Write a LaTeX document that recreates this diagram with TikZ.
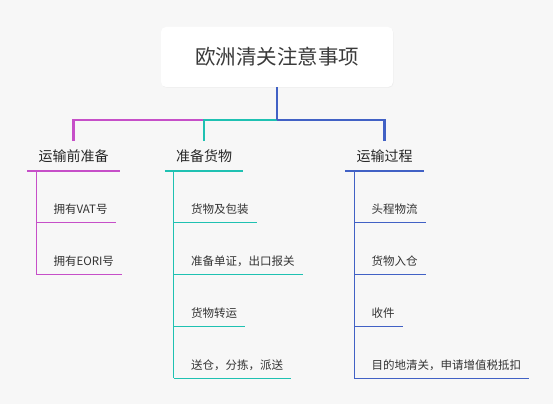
\documentclass[tikz,border=0pt]{standalone}
\usepackage{fontspec}
\setmainfont{Noto Sans CJK SC}
\usepackage{xcolor}
\usepackage{tikz}
\usetikzlibrary{calc, positioning, shadows}
\definecolor{bgColor}{HTML}{F7F7F7}
\definecolor{rootText}{HTML}{3A3A3A}
\definecolor{headText}{HTML}{262626}
\definecolor{itemText}{HTML}{333333}
\definecolor{magentaColor}{HTML}{C64FC8}
\definecolor{tealColor}{HTML}{1FC1B2}
\definecolor{blueColor}{HTML}{4161C5}

\begin{document}
\begin{tikzpicture}[x=1pt, y=-1pt,
    rootbox/.style={fill=white, rounded corners=5pt, minimum width=232pt, minimum height=60pt,
        text=rootText, font=\fontsize{20.5}{24}\selectfont,
        drop shadow={shadow xshift=0.6pt, shadow yshift=-0.8pt, opacity=0.07}},
    head/.style={text=headText, font=\fontsize{14}{17}\selectfont,
        inner xsep=11pt, inner ysep=0pt, minimum height=29.4pt},
    item/.style={anchor=west, text=itemText, font=\fontsize{11.5}{14}\selectfont,
        inner xsep=8pt, inner ysep=0pt, minimum height=26pt},
    link/.style={line width=2.4pt},
    rule/.style={line width=2pt},
    twig/.style={line width=1pt}]
    \fill[bgColor] (0,0) rectangle (553,404);
    \useasboundingbox (0,0) rectangle (553,404);

    \node[rootbox] (root) at (277,57) {欧洲清关注意事项};
    \coordinate (fork) at (277,120);

    \node[head] (pre) at (73.5,156) {运输前准备};
    \node[head] (goods) at (204,156) {准备货物};
    \node[head] (trans) at (384.5,156) {运输过程};

    % connectors from the root
    \draw[link, magentaColor] (pre.north) |- (goods.north |- fork);
    \draw[link, tealColor] (goods.north) |- (fork);
    \draw[link, blueColor] (trans.north) |- (fork);
    \draw[link, blueColor] (root.south) -- (fork);

    % 运输前准备
    \draw[rule, magentaColor] (pre.south west) -- (pre.south east);
    \coordinate (preTrunk) at ($(pre.south west)+(9,0)$);
    \foreach \txt [count=\i] in {拥有VAT号, 拥有EORI号} {
        \node[item] (pre\i) at ($(preTrunk)+(9,{52*\i-13.7})$) {\txt};
        \draw[twig, magentaColor] (preTrunk |- pre\i.south) -- (pre\i.south east);
    }
    \draw[twig, magentaColor] (preTrunk) -- (preTrunk |- pre2.south);

    % 准备货物
    \draw[rule, tealColor] (goods.south west) -- (goods.south east);
    \coordinate (goodsTrunk) at ($(goods.south west)+(9,0)$);
    \foreach \txt [count=\i] in {货物及包装, 准备单证，出口报关, 货物转运, 送仓，分拣，派送} {
        \node[item] (goods\i) at ($(goodsTrunk)+(9,{52*\i-13.7})$) {\txt};
        \draw[twig, tealColor] (goodsTrunk |- goods\i.south) -- (goods\i.south east);
    }
    \draw[twig, tealColor] (goodsTrunk) -- (goodsTrunk |- goods4.south);

    % 运输过程
    \draw[rule, blueColor] (trans.south west) -- (trans.south east);
    \coordinate (transTrunk) at ($(trans.south west)+(9,0)$);
    \foreach \txt [count=\i] in {头程物流, 货物入仓, 收件, 目的地清关，申请增值税抵扣} {
        \node[item] (trans\i) at ($(transTrunk)+(9,{52*\i-13.7})$) {\txt};
        \draw[twig, blueColor] (transTrunk |- trans\i.south) -- (trans\i.south east);
    }
    \draw[twig, blueColor] (transTrunk) -- (transTrunk |- trans4.south);
\end{tikzpicture}
\end{document}
